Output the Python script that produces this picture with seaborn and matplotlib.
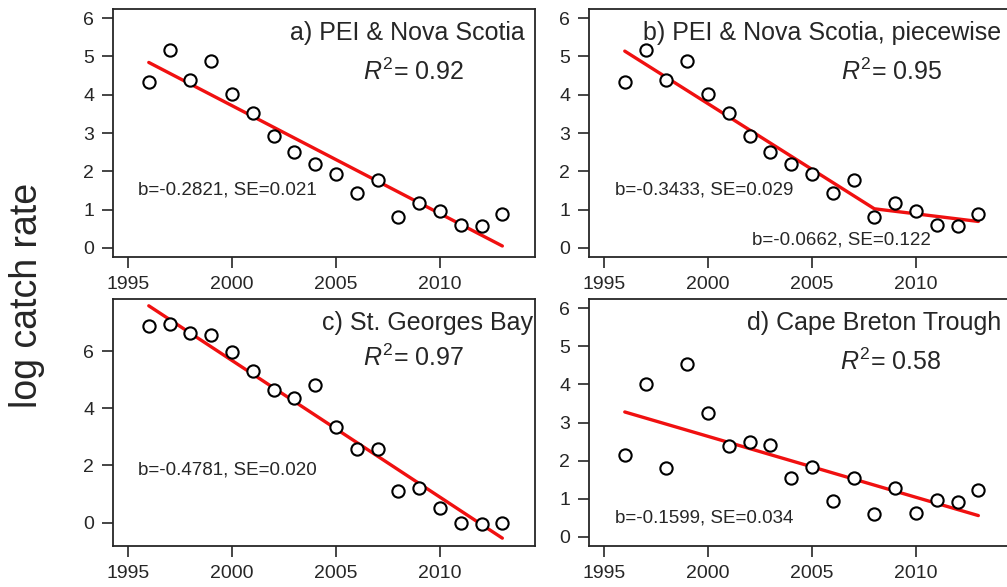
import numpy as np
import pandas as pd
import matplotlib
matplotlib.use("Agg")
import matplotlib.pyplot as plt
import seaborn as sns

# ---- data -------------------------------------------------------------
years = list(range(1996, 2014))

pei_ns = [4.33, 5.16, 4.38, 4.88, 4.02, 3.53, 2.92, 2.50, 2.20,
          1.93, 1.42, 1.78, 0.81, 1.18, 0.95, 0.59, 0.56, 0.88]
st_georges = [6.86, 6.95, 6.62, 6.57, 5.98, 5.31, 4.65, 4.36, 4.81,
              3.34, 2.58, 2.56, 1.10, 1.21, 0.50, -0.02, -0.04, -0.01]
cape_breton = [2.14, 4.00, 1.80, 4.53, 3.25, 2.39, 2.50, 2.41, 1.55,
               1.84, 0.95, 1.54, 0.60, 1.28, 0.63, 0.96, 0.92, 1.22]

panel_titles = ["a) PEI & Nova Scotia", "b) PEI & Nova Scotia, piecewise",
                "c) St. Georges Bay", "d) Cape Breton Trough"]
r_squared = ["0.92", "0.95", "0.97", "0.58"]

# linear fits: slope (b) and standard error
slope_a, se_a = -0.2821, 0.021
slope_c, se_c = -0.4781, 0.020
slope_d, se_d = -0.1599, 0.034

# piecewise fit for panel b: two slopes joined at a break year
slope_b1, se_b1 = -0.3433, 0.029
slope_b2, se_b2 = -0.0662, 0.122
break_year = 2008
break_value = 1.02

x_ticks = [1995, 2000, 2005, 2010]
y_ticks_std = [0, 1, 2, 3, 4, 5, 6]
y_ticks_c = [0, 2, 4, 6]

# ---- style ------------------------------------------------------------
sns.set_style("ticks")
plt.rcParams["font.family"] = ["Liberation Sans", "DejaVu Sans"]
plt.rcParams["mathtext.fontset"] = "custom"
plt.rcParams["mathtext.rm"] = "Liberation Sans"
plt.rcParams["mathtext.it"] = "Liberation Sans:italic"

INK = "#262626"
RED = "#f01010"

fig = plt.figure(figsize=(10.07, 5.87), dpi=100)
W, H = 1007, 587


def add_panel(left, top, right, bottom):
    return fig.add_axes([left / W, 1 - bottom / H, (right - left) / W, (bottom - top) / H])


ax_a = add_panel(113, 9, 535, 257)
ax_b = add_panel(589, 9, 1011, 257)
ax_c = add_panel(113, 299, 535, 546)
ax_d = add_panel(589, 299, 1011, 546)


def fit_line(y, slope):
    x = np.array(years, dtype=float)
    yv = np.array(y, dtype=float)
    return pd.DataFrame({"year": x, "fit": yv.mean() + slope * (x - x.mean())})


def draw_points(ax, y):
    df = pd.DataFrame({"year": years, "value": y})
    sns.scatterplot(data=df, x="year", y="value", ax=ax, s=78,
                    facecolor="white", edgecolor="black", linewidth=1.5, zorder=3)


def draw_fit(ax, df):
    sns.lineplot(data=df, x="year", y="fit", ax=ax, color=RED, linewidth=2.4,
                 zorder=2, sort=False)


def style_axes(ax, ylim, yticks):
    ax.set_xlim(1994.28, 2014.57)
    ax.set_ylim(*ylim)
    ax.set_xticks(x_ticks)
    ax.set_yticks(yticks)
    ax.set_xlabel("")
    ax.set_ylabel("")
    for sp in ax.spines.values():
        sp.set_visible(True)
        sp.set_color(INK)
        sp.set_linewidth(1.3)
    ax.tick_params(axis="both", direction="out", length=8, width=1.2,
                   color=INK, labelcolor=INK, labelsize=14)
    ax.tick_params(axis="x", pad=5.5)
    ax.tick_params(axis="y", pad=5.5)


def annotate(ax, title, tx, ty, r2, rx, ry):
    ax.text(tx, ty, title, transform=ax.transAxes, ha="right", va="center",
            fontsize=18, color=INK)
    ax.text(rx, ry, r"$R^2$= " + r2, transform=ax.transAxes, ha="center",
            va="center", fontsize=18, color=INK)


def stat_text(ax, x, y, b, se):
    ax.text(x, y, f"b={b:.4f}, SE={se:.3f}", transform=ax.transAxes,
            ha="left", va="center", fontsize=13.5, color=INK)


# a) single linear fit
draw_fit(ax_a, fit_line(pei_ns, slope_a))
draw_points(ax_a, pei_ns)
style_axes(ax_a, (-0.24, 6.24), y_ticks_std)
annotate(ax_a, panel_titles[0], 0.976, 0.903, r_squared[0], 0.712, 0.746)
stat_text(ax_a, 0.059, 0.27, slope_a, se_a)

# b) piecewise fit
seg_years = [years[0], break_year, years[-1]]
seg_vals = [break_value - slope_b1 * (break_year - years[0]),
            break_value,
            break_value + slope_b2 * (years[-1] - break_year)]
draw_fit(ax_b, pd.DataFrame({"year": seg_years, "fit": seg_vals}))
draw_points(ax_b, pei_ns)
style_axes(ax_b, (-0.24, 6.24), y_ticks_std)
annotate(ax_b, panel_titles[1], 0.976, 0.903, r_squared[1], 0.716, 0.746)
stat_text(ax_b, 0.062, 0.27, slope_b1, se_b1)
stat_text(ax_b, 0.386, 0.069, slope_b2, se_b2)

# c) St. Georges Bay
draw_fit(ax_c, fit_line(st_georges, slope_c))
draw_points(ax_c, st_georges)
style_axes(ax_c, (-0.82, 7.82), y_ticks_c)
annotate(ax_c, panel_titles[2], 0.995, 0.903, r_squared[2], 0.712, 0.761)
stat_text(ax_c, 0.059, 0.308, slope_c, se_c)

# d) Cape Breton Trough
draw_fit(ax_d, fit_line(cape_breton, slope_d))
draw_points(ax_d, cape_breton)
style_axes(ax_d, (-0.24, 6.24), y_ticks_std)
annotate(ax_d, panel_titles[3], 0.976, 0.903, r_squared[3], 0.716, 0.745)
stat_text(ax_d, 0.062, 0.113, slope_d, se_d)

fig.text(27 / W, 1 - 295 / H, "log catch rate", rotation=90, ha="center",
         va="center", fontsize=27, color=INK)

fig.savefig("out.png", dpi=100)
